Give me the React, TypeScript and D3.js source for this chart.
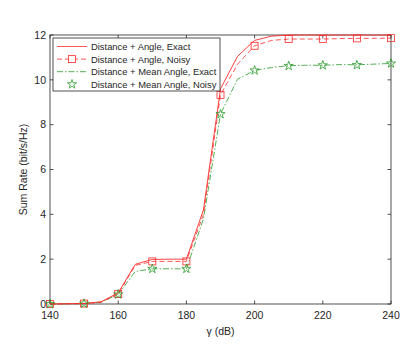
import * as d3 from "d3";

// gamma (dB) grid, 5 dB steps; markers every 10 dB
const gammaFine = [140, 145, 150, 155, 160, 165, 170, 175, 180, 185, 190, 195, 200, 205, 210, 215, 220, 225, 230, 235, 240];
const gammaMarks = [140, 150, 160, 170, 180, 190, 200, 210, 220, 230, 240];

const exactAngle = [0, 0.01, 0.02, 0.1, 0.5, 1.77, 1.99, 2.0, 2.0, 4.2, 9.6, 11.05, 11.76, 11.95, 12.0, 12.0, 12.0, 12.0, 12.0, 12.0, 12.0];
const noisyAngle = [0, 0.01, 0.02, 0.08, 0.45, 1.72, 1.9, 1.9, 1.9, 4.0, 9.33, 10.7, 11.52, 11.76, 11.82, 11.82, 11.82, 11.84, 11.85, 11.85, 11.86];
const exactMean = [0, 0.01, 0.02, 0.08, 0.43, 1.45, 1.57, 1.57, 1.57, 3.8, 8.47, 10.03, 10.42, 10.55, 10.63, 10.65, 10.65, 10.68, 10.67, 10.7, 10.73];
const noisyMean = [0, 0.02, 0.43, 1.57, 1.57, 8.47, 10.42, 10.62, 10.65, 10.66, 10.73];

const xTicks = [140, 160, 180, 200, 220, 240];
const yTicks = [0, 2, 4, 6, 8, 10, 12];

const RED = "#ff2a2a";
const GREEN = "#2a9a2a";
const AXIS = "#262626";
const FONT = "Liberation Sans, Arial, sans-serif";

export default function App() {
  const width = 415;
  const height = 347;
  const margin = { top: 35, right: 24, bottom: 43, left: 50 };

  const x = d3.scaleLinear().domain([140, 240]).range([margin.left, width - margin.right]);
  const y = d3.scaleLinear().domain([0, 12]).range([height - margin.bottom, margin.top]);

  const line = d3
    .line<[number, number]>()
    .x((d) => x(d[0]))
    .y((d) => y(d[1]));

  const pts = (vals: number[], xs: number[]) => xs.map((g, i) => [g, vals[i]] as [number, number]);
  const noisyMarks = gammaMarks.map((g) => [g, noisyAngle[gammaFine.indexOf(g)]] as [number, number]);

  const star = d3.symbol().type(d3.symbolStar).size(26);
  const x0 = x.range()[0];
  const x1 = x.range()[1];
  const y0 = y.range()[0];
  const y1 = y.range()[1];
  const tl = 3.5;

  const legend = [
    { label: "Distance + Angle, Exact", color: RED, dash: "none", marker: "none" },
    { label: "Distance + Angle, Noisy", color: RED, dash: "5,3", marker: "square" },
    { label: "Distance + Mean Angle, Exact", color: GREEN, dash: "6,2,1.5,2", marker: "none" },
    { label: "Distance + Mean Angle, Noisy", color: GREEN, dash: "", marker: "star" },
  ];

  return (
    <svg width={width} height={height} style={{ position: "absolute", left: 0, top: 0 }} fontFamily={FONT}>
      <rect width={width} height={height} fill="#fff" />
      {/* axes box */}
      <rect x={x0} y={y1} width={x1 - x0} height={y0 - y1} fill="none" stroke={AXIS} strokeWidth={0.8} />
      {xTicks.map((t) => (
        <g key={"x" + t}>
          <line x1={x(t)} x2={x(t)} y1={y0} y2={y0 - tl} stroke={AXIS} strokeWidth={0.8} />
          <line x1={x(t)} x2={x(t)} y1={y1} y2={y1 + tl} stroke={AXIS} strokeWidth={0.8} />
          <text x={x(t)} y={y0 + 15} textAnchor="middle" fontSize={10.5} fill={AXIS}>{t}</text>
        </g>
      ))}
      {yTicks.map((t) => (
        <g key={"y" + t}>
          <line x1={x0} x2={x0 + tl} y1={y(t)} y2={y(t)} stroke={AXIS} strokeWidth={0.8} />
          <line x1={x1} x2={x1 - tl} y1={y(t)} y2={y(t)} stroke={AXIS} strokeWidth={0.8} />
          <text x={x0 - 4} y={y(t) + 3.8} textAnchor="end" fontSize={10.5} fill={AXIS}>{t}</text>
        </g>
      ))}
      <text x={(x0 + x1) / 2} y={335} textAnchor="middle" fontSize={10.5} fill={AXIS}>γ (dB)</text>
      <text transform={`translate(27,${(y0 + y1) / 2}) rotate(-90)`} textAnchor="middle" fontSize={10.5} fill={AXIS}>
        Sum Rate (bit/s/Hz)
      </text>

      {/* series */}
      <path d={line(pts(exactMean, gammaFine)) ?? ""} fill="none" stroke={GREEN} strokeWidth={0.8} strokeDasharray="6,2,1.5,2" />
      <path d={line(pts(exactAngle, gammaFine)) ?? ""} fill="none" stroke={RED} strokeWidth={0.9} />
      <path d={line(pts(noisyAngle, gammaFine)) ?? ""} fill="none" stroke={RED} strokeWidth={0.8} strokeDasharray="5,3" />
      {noisyMarks.map((d, i) => (
        <rect key={"sq" + i} x={x(d[0]) - 3.5} y={y(d[1]) - 3.5} width={7} height={7} fill="none" stroke={RED} strokeWidth={0.8} />
      ))}
      {pts(noisyMean, gammaMarks).map((d, i) => (
        <path key={"st" + i} d={star() ?? ""} transform={`translate(${x(d[0])},${y(d[1])})`} fill="none" stroke={GREEN} strokeWidth={0.8} />
      ))}

      {/* legend */}
      <rect x={53} y={38} width={167} height={53} fill="#fff" stroke={AXIS} strokeWidth={0.8} />
      {legend.map((e, i) => {
        const ly = 46.5 + i * 12.6;
        return (
          <g key={e.label}>
            {e.dash !== "" && (
              <line x1={57} x2={87} y1={ly} y2={ly} stroke={e.color} strokeWidth={0.8} strokeDasharray={e.dash === "none" ? undefined : e.dash} />
            )}
            {e.marker === "square" && <rect x={68.5} y={ly - 3.5} width={7} height={7} fill="#fff" stroke={e.color} strokeWidth={0.8} />}
            {e.marker === "star" && <path d={star() ?? ""} transform={`translate(72,${ly})`} fill="none" stroke={e.color} strokeWidth={0.8} />}
            <text x={91} y={ly + 3.4} fontSize={9.4} fill={AXIS}>{e.label}</text>
          </g>
        );
      })}
    </svg>
  );
}
